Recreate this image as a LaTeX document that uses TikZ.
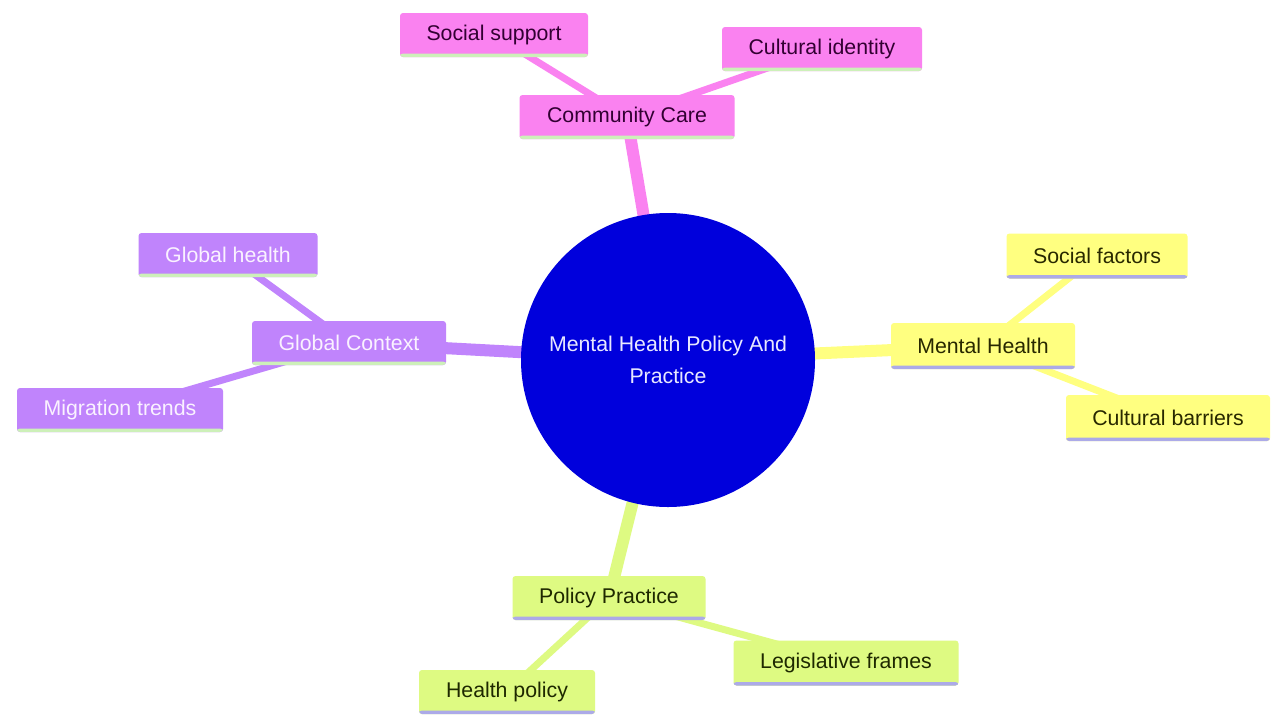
\documentclass[tikz,border=0pt]{standalone}
\usepackage{fontspec}
\setmainfont{Liberation Sans}
\begin{document}
\begin{tikzpicture}[x=1pt,y=-1pt,
  font=\fontsize{21.3}{25}\selectfont,
  mmbox/.style={rounded corners=3pt, minimum height=44pt, inner xsep=26pt, inner ysep=0pt, anchor=center},
  uline/.style={path picture={\fill[#1] ([yshift=3.5pt]path picture bounding box.south west) rectangle (path picture bounding box.south east);}},
  pinkbox/.style={mmbox, fill=cpink, text=tpink, uline=ugreen},
  purpbox/.style={mmbox, fill=cpurp, text=tpurp, uline=ugreen},
  yellbox/.style={mmbox, fill=cyell, text=tyell, uline=ulav},
  grnbox/.style={mmbox, fill=cgrn, text=tgrn, uline=ulav},
  mainedge/.style={line width=12pt, draw=#1},
  subedge/.style={line width=7pt, draw=#1}
]
\definecolor{cpink}{RGB}{250,130,240}
\definecolor{tpink}{RGB}{50,0,50}
\definecolor{cpurp}{RGB}{192,132,252}
\definecolor{tpurp}{RGB}{250,242,255}
\definecolor{cyell}{RGB}{255,255,128}
\definecolor{tyell}{RGB}{40,40,0}
\definecolor{cgrn}{RGB}{222,250,130}
\definecolor{tgrn}{RGB}{30,40,0}
\definecolor{ugreen}{RGB}{205,240,185}
\definecolor{ulav}{RGB}{172,170,232}
\definecolor{cblue}{RGB}{0,0,220}
\definecolor{tblue}{RGB}{232,232,255}

\useasboundingbox (0,0) rectangle (1272,716);
\fill[white] (0,0) rectangle (1272,716);

\coordinate (pc) at (668,360);
\coordinate (pcc) at (627,117);
\coordinate (pss) at (494,35);
\coordinate (pci) at (822,49);
\coordinate (pgc) at (349,343);
\coordinate (pgh) at (228,255);
\coordinate (pmt) at (120,410);
\coordinate (pmh) at (983,346);
\coordinate (psf) at (1097,256);
\coordinate (pcb) at (1168,418);
\coordinate (ppp) at (609,598);
\coordinate (plf) at (846,663);
\coordinate (php) at (507,692);

% edges
\draw[mainedge=cpink] (pc) -- (pcc);
\draw[subedge=cpink] (pcc) -- (pss);
\draw[subedge=cpink] (pcc) -- (pci);
\draw[mainedge=cpurp] (pc) -- (pgc);
\draw[subedge=cpurp] (pgc) -- (pgh);
\draw[subedge=cpurp] (pgc) -- (pmt);
\draw[mainedge=cyell] (pc) -- (pmh);
\draw[subedge=cyell] (pmh) -- (psf);
\draw[subedge=cyell] (pmh) -- (pcb);
\draw[mainedge=cgrn] (pc) -- (ppp);
\draw[subedge=cgrn] (ppp) -- (plf);
\draw[subedge=cgrn] (ppp) -- (php);

% nodes
\node[circle, fill=cblue, text=tblue, minimum size=294pt, inner sep=0pt, align=center,
  font=\fontsize{21.3}{32}\selectfont] (c) at (pc) {Mental Health Policy And\\Practice};
\node[pinkbox, minimum width=215pt] (cc) at (pcc) {Community Care};
\node[pinkbox, minimum width=188pt] (ss) at (pss) {Social support};
\node[pinkbox, minimum width=200pt] (ci) at (pci) {Cultural identity};
\node[purpbox, minimum width=194pt] (gc) at (pgc) {Global Context};
\node[purpbox, minimum width=179pt] (gh) at (pgh) {Global health};
\node[purpbox, minimum width=206pt] (mt) at (pmt) {Migration trends};
\node[yellbox, minimum width=184pt, minimum height=46pt] (mh) at (pmh) {Mental Health};
\node[yellbox, minimum width=181pt, minimum height=45pt] (sf) at (psf) {Social factors};
\node[yellbox, minimum width=204pt, minimum height=46pt] (cb) at (pcb) {Cultural barriers};
\node[grnbox, minimum width=193pt] (pp) at (ppp) {Policy Practice};
\node[grnbox, minimum width=225pt, minimum height=45pt] (lf) at (plf) {Legislative frames};
\node[grnbox, minimum width=176pt] (hp) at (php) {Health policy};
\end{tikzpicture}
\end{document}
